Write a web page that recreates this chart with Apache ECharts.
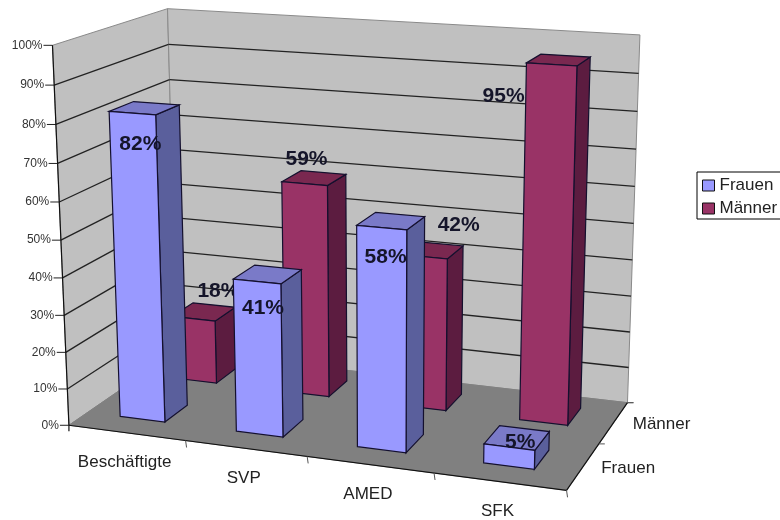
<!DOCTYPE html>
<html>
<head>
<meta charset="utf-8">
<style>html,body{margin:0;padding:0;background:#fff}#c{width:780px;height:520px}</style>
<script src="https://cdn.jsdelivr.net/npm/echarts@6/dist/echarts.min.js"></script>
</head>
<body>
<div id="c"></div>
<script>
// Chart data
const categories = ['Beschäftigte', 'SVP', 'AMED', 'SFK'];
const rows = ['Frauen', 'Männer'];
const frauen = [82, 41, 58, 5];
const maenner = [18, 59, 42, 95];
const yTicks = [0, 10, 20, 30, 40, 50, 60, 70, 80, 90, 100];

// Label offsets from the middle of a bar's front top edge, in pixels
const frauenLabelNudge = [[8, 31], [6, 27], [4, 30], [11, -5]];
const maennerLabelNudge = [[25, -28], [2, -24], [35, -32], [-48, 32]];

// Colours of the three visible bar faces
const blueFaces = { front: '#9999ff', side: '#5a5f9c', top: '#7a7ac8' };
const redFaces = { front: '#993366', side: '#5c1c40', top: '#7a2850' };

const FONT = '"Liberation Sans", Arial, sans-serif';

// Perspective box: corners as [u, v, w] -> [x, y] on the page, fitted by least squares
const boxCorners = [
  [0, 0, 0, 68, 424], [1, 0, 0, 567, 491], [0, 1, 0, 178, 352], [1, 1, 0, 627, 402],
  [0, 0, 1, 53, 46], [0, 1, 1, 167, 8], [1, 1, 1, 640, 35]
];
function fitCamera(pts) {
  const A = [], b = [];
  pts.forEach(([u, v, w, x, y]) => {
    A.push([u, v, w, 1, 0, 0, 0, 0, -x * u, -x * v, -x * w]); b.push(x);
    A.push([0, 0, 0, 0, u, v, w, 1, -y * u, -y * v, -y * w]); b.push(y);
  });
  const n = 11, M = [];
  for (let i = 0; i < n; i++) {
    M.push(new Array(n + 1).fill(0));
    for (let j = 0; j < n; j++) for (let k = 0; k < A.length; k++) M[i][j] += A[k][i] * A[k][j];
    for (let k = 0; k < A.length; k++) M[i][n] += A[k][i] * b[k];
  }
  for (let c = 0; c < n; c++) {
    let p = c;
    for (let r = c + 1; r < n; r++) if (Math.abs(M[r][c]) > Math.abs(M[p][c])) p = r;
    [M[c], M[p]] = [M[p], M[c]];
    for (let r = 0; r < n; r++) {
      if (r === c) continue;
      const f = M[r][c] / M[c][c];
      for (let k = c; k <= n; k++) M[r][k] -= f * M[c][k];
    }
  }
  return M.map((row, i) => row[n] / row[i]);
}
const cam = fitCamera(boxCorners);
function project(u, v, w) {
  const d = cam[8] * u + cam[9] * v + cam[10] * w + 1;
  return [
    (cam[0] * u + cam[1] * v + cam[2] * w + cam[3]) / d,
    (cam[4] * u + cam[5] * v + cam[6] * w + cam[7]) / d
  ];
}
// The hidden grid supplies the category and percent scales; its output is read as box fractions
function point(params, api, catPos, depth, value) {
  const c = api.coord([catPos, value]);
  const s = params.coordSys;
  return project((c[0] - s.x) / s.width, depth, 1 - (c[1] - s.y) / s.height);
}

function poly(points, fill, stroke, lw) {
  return { type: 'polygon', shape: { points }, style: { fill, stroke: stroke || null, lineWidth: lw || 0 } };
}
function seg(a, b, stroke, lw) {
  return { type: 'line', shape: { x1: a[0], y1: a[1], x2: b[0], y2: b[1] }, style: { stroke, lineWidth: lw || 1 } };
}
function label(text, x, y, size, opts) {
  return {
    type: 'text',
    style: Object.assign({ text, x, y, fill: '#222', font: size + 'px ' + FONT, align: 'center', verticalAlign: 'middle' }, opts || {})
  };
}

const N = categories.length;

function renderWalls(params, api) {
  const P = (u, v, val) => point(params, api, u * N, v, val);
  const edge = '#8a8a8a';
  return {
    type: 'group',
    children: [
      poly([P(0, 0, 0), P(0, 1, 0), P(0, 1, 100), P(0, 0, 100)], '#c0c0c0', edge, 1),
      poly([P(0, 1, 0), P(1, 1, 0), P(1, 1, 100), P(0, 1, 100)], '#c0c0c0', edge, 1),
      poly([P(0, 0, 0), P(1, 0, 0), P(1, 1, 0), P(0, 1, 0)], '#808080', '#808080', 1)
    ]
  };
}

function renderGridline(params, api) {
  const val = api.value(1);
  const P = (u, v) => point(params, api, u * N, v, val);
  const front = P(0, 0);
  const kids = [seg([front[0] - 9, front[1]], front, '#222', 1)];
  if (val > 0 && val < 100) kids.push(seg(front, P(0, 1), '#222', 1.3), seg(P(0, 1), P(1, 1), '#222', 1.3));
  kids.push(label(val + '%', front[0] - 10, front[1], 12, { align: 'right', fill: '#333' }));
  return { type: 'group', children: kids };
}

function renderAxes(params, api) {
  const P = (u, v, val) => point(params, api, u * N, v, val);
  return {
    type: 'group',
    children: [
      seg(P(0, 0, 100), P(0, 0, 0), '#111', 1.2),
      seg(P(0, 0, 0), [P(0, 0, 0)[0], P(0, 0, 0)[1] + 6], '#111', 1.2),
      seg(P(0, 0, 0), P(1, 0, 0), '#111', 1.2),
      seg(P(1, 0, 0), P(1, 1, 0), '#111', 1.2),
      seg(P(1, 1, 0), [P(1, 1, 0)[0] + 6, P(1, 1, 0)[1]], '#555', 1)
    ]
  };
}

// Category ticks and names below the front floor edge
function renderCategoryTick(params, api) {
  const i = api.value(0);
  const tick = point(params, api, i + 1, 0, 0);
  const mid = point(params, api, i + 0.5, 0, 0);
  return {
    type: 'group',
    children: [
      seg(tick, [tick[0] + 1, tick[1] + 7], '#555', 1),
      label(categories[i], mid[0] - 2, mid[1] + 30, 17)
    ]
  };
}

// Row ticks and names beside the right floor edge
function renderRowTick(params, api) {
  const i = api.value(0);
  const tick = point(params, api, N, (i + 1) / 2, 0);
  const mid = point(params, api, N, (i + 0.5) / 2, 0);
  return {
    type: 'group',
    children: [
      seg(tick, [tick[0] + 6, tick[1]], '#555', 1),
      label(rows[i], mid[0] + 45 + i * 3, mid[1] + 2, 17)
    ]
  };
}

function barRenderer(depth0, depth1, faces, nudges) {
  return function (params, api) {
    const i = api.value(0);
    const val = api.value(1);
    const a = i + 0.285, b = i + 0.675;
    const Q = (c, d, h) => point(params, api, c, d, h);
    const stroke = '#14102e';
    const kids = [
      poly([Q(b, depth0, 0), Q(b, depth1, 0), Q(b, depth1, val), Q(b, depth0, val)], faces.side, stroke, 1.2),
      poly([Q(a, depth0, val), Q(b, depth0, val), Q(b, depth1, val), Q(a, depth1, val)], faces.top, stroke, 1.2),
      poly([Q(a, depth0, 0), Q(b, depth0, 0), Q(b, depth0, val), Q(a, depth0, val)], faces.front, stroke, 1.2)
    ];
    const topMid = Q((a + b) / 2, depth0, val);
    kids.push(label(val + '%', topMid[0] + nudges[i][0], topMid[1] + nudges[i][1], 21, {
      font: 'bold 21px ' + FONT, fill: '#15152a'
    }));
    return { type: 'group', children: kids };
  };
}

const indexed = arr => arr.map((v, i) => [i, v]);
const base = { type: 'custom', silent: true, clip: false, encode: { x: 0, y: 1 } };

const chart = echarts.init(document.getElementById('c'), null, { renderer: 'canvas', width: 780, height: 520 });
chart.setOption({
  animation: false,
  backgroundColor: '#ffffff',
  grid: { left: 0, top: 0, right: 0, bottom: 0 },
  xAxis: { type: 'value', min: 0, max: N, show: false },
  yAxis: { type: 'value', min: 0, max: 100, show: false },
  legend: {
    left: 697, top: 172, orient: 'vertical', selectedMode: false,
    icon: 'rect', itemWidth: 12, itemHeight: 11, itemGap: 6,
    padding: [5, 8, 2, 5], backgroundColor: '#fff', borderColor: '#000', borderWidth: 1,
    textStyle: { fontFamily: FONT, fontSize: 17, color: '#222' },
    data: [
      { name: 'Frauen', itemStyle: { color: blueFaces.front, borderColor: '#111', borderWidth: 1 } },
      { name: 'Männer', itemStyle: { color: redFaces.front, borderColor: '#111', borderWidth: 1 } }
    ]
  },
  series: [
    Object.assign({}, base, { name: 'walls', renderItem: renderWalls, data: [[0, 0]], z: 1 }),
    Object.assign({}, base, { name: 'gridlines', renderItem: renderGridline, data: yTicks.map(t => [0, t]), z: 2 }),
    Object.assign({}, base, { name: 'axes', renderItem: renderAxes, data: [[0, 0]], z: 3 }),
    Object.assign({}, base, { name: 'categoryTicks', renderItem: renderCategoryTick, data: categories.map((c, i) => [i, 0]), z: 3 }),
    Object.assign({}, base, { name: 'rowTicks', renderItem: renderRowTick, data: rows.map((r, i) => [i, 0]), z: 3 }),
    Object.assign({}, base, {
      name: 'Männer', renderItem: barRenderer(0.66, 0.87, redFaces, maennerLabelNudge),
      data: indexed(maenner), z: 4, itemStyle: { color: redFaces.front }
    }),
    Object.assign({}, base, {
      name: 'Frauen', renderItem: barRenderer(0.16, 0.37, blueFaces, frauenLabelNudge),
      data: indexed(frauen), z: 5, itemStyle: { color: blueFaces.front }
    })
  ]
});
</script>
</body>
</html>
